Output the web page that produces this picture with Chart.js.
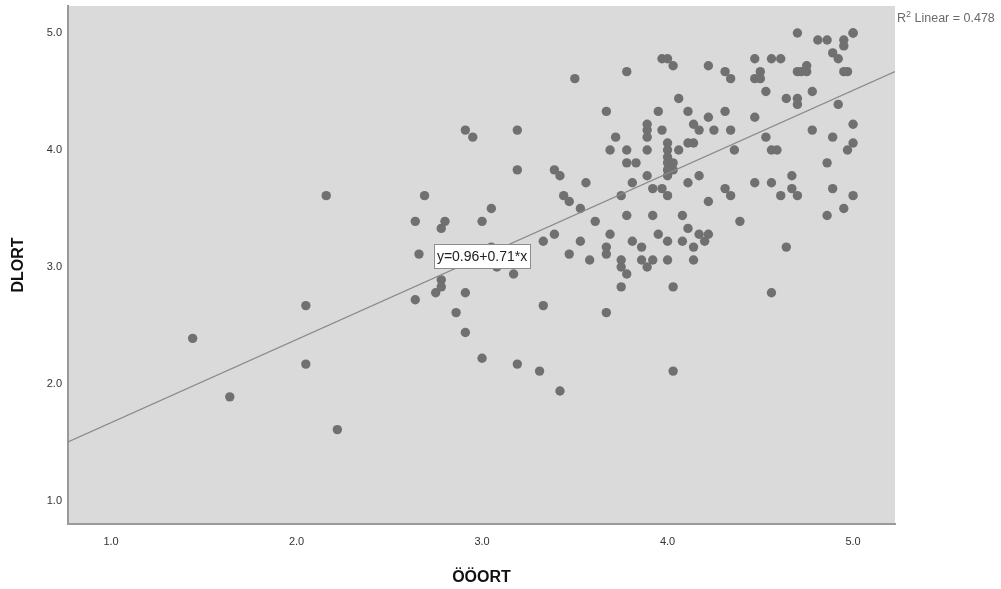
<!DOCTYPE html>
<html>
<head>
<meta charset="utf-8">
<script src="https://cdn.jsdelivr.net/npm/chart.js@4.4.1/dist/chart.umd.min.js"></script>
<style>
html, body { margin: 0; padding: 0; background: #fff; }
#wrap { width: 1001px; height: 589px; position: relative; }
</style>
</head>
<body>
<div id="wrap"><canvas id="scatter"></canvas></div>
<script>
// ÖÖORT (x) and DLORT (y), one entry per respondent
const ooort = [
  2.16, 2.05, 1.44, 2.05, 1.64, 2.22,
  3.50, 3.78, 3.67, 2.91, 2.95, 3.19, 3.72, 3.69, 3.78, 3.78, 3.19, 3.39, 3.42, 3.56,
  4.70, 5.00, 5.00, 4.81, 4.86, 4.95, 4.95, 4.89, 4.92,
  3.97, 4.00, 4.03, 4.47, 4.56, 4.61, 4.75, 4.22, 4.31, 4.34, 4.47, 4.50, 4.50, 4.70, 4.72, 4.75, 4.95, 4.97,
  4.06, 4.53, 4.64, 4.70, 4.70, 4.78, 4.92,
  3.95, 4.11, 4.31, 4.22, 4.47,
  3.89, 3.89, 3.89, 3.97, 4.14, 4.17, 4.25, 4.34, 4.53, 4.78, 4.89, 5.00, 5.00, 4.97,
  3.89, 4.00, 4.00, 4.06, 4.11, 4.14, 4.00, 4.00, 4.03, 4.03, 4.00, 4.36, 4.56, 4.59, 3.83, 4.86,
  3.81, 3.89, 3.92, 3.97, 4.00, 4.11, 4.17, 4.31, 4.47, 4.56, 4.67, 4.67, 4.89,
  2.69, 3.44, 3.47, 3.75, 3.53, 3.05, 2.64, 2.80, 2.78, 3.00, 3.61, 3.78, 3.39, 3.33, 3.53, 3.69,
  2.66, 3.05, 3.08, 3.17, 3.47, 3.58, 3.67, 3.67, 3.75, 3.75, 3.78, 2.78, 2.78, 2.75, 2.64, 2.91,
  3.75, 3.33, 3.67, 2.86, 2.91, 3.00, 3.19, 3.31, 3.42,
  4.00, 4.34, 4.61, 4.70, 5.00, 4.22, 3.92, 4.08, 4.39, 4.86, 4.95, 4.11, 3.95, 4.17, 4.22,
  3.81, 4.00, 4.08, 4.20, 3.86, 4.14, 4.64, 3.86, 3.92, 3.89, 4.00, 4.14, 4.03, 4.56, 4.03
];
const dlort = [
  3.61, 2.67, 2.39, 2.17, 1.89, 1.61,
  4.61, 4.67, 4.33, 4.17, 4.11, 4.17, 4.11, 4.00, 4.00, 3.89, 3.83, 3.83, 3.78, 3.72,
  5.00, 5.00, 5.00, 4.94, 4.94, 4.94, 4.89, 4.83, 4.78,
  4.78, 4.78, 4.72, 4.78, 4.78, 4.78, 4.72, 4.72, 4.67, 4.61, 4.61, 4.67, 4.61, 4.67, 4.67, 4.67, 4.67, 4.67,
  4.44, 4.50, 4.44, 4.44, 4.39, 4.50, 4.39,
  4.33, 4.33, 4.33, 4.28, 4.28,
  4.22, 4.17, 4.11, 4.17, 4.22, 4.17, 4.17, 4.17, 4.11, 4.17, 4.11, 4.22, 4.06, 4.00,
  4.00, 4.06, 4.00, 4.00, 4.06, 4.06, 3.94, 3.89, 3.89, 3.83, 3.83, 4.00, 4.00, 4.00, 3.89, 3.89,
  3.72, 3.78, 3.67, 3.67, 3.78, 3.72, 3.78, 3.67, 3.72, 3.72, 3.78, 3.67, 3.67,
  3.61, 3.61, 3.56, 3.61, 3.50, 3.50, 3.39, 3.39, 3.33, 3.39, 3.39, 3.44, 3.28, 3.22, 3.22, 3.28,
  3.11, 3.17, 3.00, 2.94, 3.11, 3.06, 3.17, 3.11, 3.06, 3.00, 2.94, 2.89, 2.83, 2.78, 2.72, 2.78,
  2.83, 2.67, 2.61, 2.61, 2.44, 2.22, 2.17, 2.11, 1.94,
  3.61, 3.61, 3.61, 3.61, 3.61, 3.56, 3.44, 3.44, 3.39, 3.44, 3.50, 3.33, 3.28, 3.28, 3.28,
  3.22, 3.22, 3.22, 3.22, 3.17, 3.17, 3.17, 3.06, 3.06, 3.00, 3.06, 3.06, 2.83, 2.78, 2.11
];
const xTicks = [1, 2, 3, 4, 5];
const yTicks = [1, 2, 3, 4, 5];
const xRange = [0.768, 5.226];
const yRange = [0.803, 5.231];
const fitIntercept = 0.96;
const fitSlope = 0.71;
const rSquared = 0.478;
const equationAtX = 3.0;

const FONT = '"Liberation Sans", Arial, sans-serif';
const points = ooort.map((x, i) => ({ x: x, y: dlort[i] }));
const fitLine = xRange.map(x => ({ x: x, y: fitIntercept + fitSlope * x }));

const plotBackground = {
  id: 'plotBackground',
  beforeDraw(chart) {
    const { ctx, chartArea: a } = chart;
    ctx.save();
    ctx.fillStyle = '#dadada';
    ctx.fillRect(a.left, a.top, a.right - a.left, a.bottom - a.top);
    ctx.restore();
  }
};

const fitLabels = {
  id: 'fitLabels',
  afterDraw(chart) {
    const { ctx, chartArea: a, scales } = chart;
    const px = scales.x.getPixelForValue(equationAtX);
    const py = scales.y.getPixelForValue(fitIntercept + fitSlope * equationAtX);
    const text = 'y=' + fitIntercept.toFixed(2) + '+' + fitSlope.toFixed(2) + '*x';
    ctx.save();
    ctx.font = '14px ' + FONT;
    const w = ctx.measureText(text).width + 6;
    const h = 24;
    ctx.fillStyle = '#ffffff';
    ctx.fillRect(px - w / 2, py - h / 2, w, h);
    ctx.strokeStyle = '#8c8c8c';
    ctx.lineWidth = 1;
    ctx.strokeRect(Math.round(px - w / 2) + 0.5, Math.round(py - h / 2) + 0.5, Math.round(w), h);
    ctx.fillStyle = '#222';
    ctx.textAlign = 'center';
    ctx.textBaseline = 'middle';
    ctx.fillText(text, px, py + 1);

    // R² note in the right margin
    let x = a.right + 2;
    const y = a.top + 13;
    ctx.textAlign = 'left';
    ctx.textBaseline = 'middle';
    ctx.fillStyle = '#6a6a6a';
    ctx.font = '12.5px ' + FONT;
    ctx.fillText('R', x, y);
    x += ctx.measureText('R').width;
    ctx.font = '9px ' + FONT;
    ctx.fillText('2', x, y - 4);
    x += ctx.measureText('2').width;
    ctx.font = '12.5px ' + FONT;
    ctx.fillText(' Linear = ' + rSquared.toFixed(3), x, y);
    ctx.restore();
  }
};

new Chart(document.getElementById('scatter'), {
  type: 'scatter',
  data: {
    datasets: [
      {
        type: 'line',
        data: fitLine,
        borderColor: '#8a8a8a',
        borderWidth: 1.2,
        pointRadius: 0,
        fill: false
      },
      {
        data: points,
        backgroundColor: '#707070',
        borderColor: '#707070',
        borderWidth: 0,
        pointRadius: 4.7,
        pointHoverRadius: 4.7
      }
    ]
  },
  options: {
    responsive: true,
    maintainAspectRatio: false,
    animation: false,
    layout: { padding: { top: 6, right: 106, bottom: 0, left: 0 } },
    plugins: {
      legend: { display: false },
      tooltip: { enabled: false }
    },
    scales: {
      x: {
        type: 'linear',
        min: xRange[0],
        max: xRange[1],
        afterBuildTicks: s => { s.ticks = xTicks.map(v => ({ value: v })); },
        afterFit: s => { s.height = 65; s.paddingLeft = 0; s.paddingRight = 0; },
        grid: { display: false, drawTicks: false },
        border: { display: true, color: '#9a9a9a', width: 2 },
        ticks: {
          padding: 11,
          color: '#333',
          font: { family: FONT, size: 11 },
          callback: v => Number(v).toFixed(1)
        },
        title: {
          display: true,
          text: 'ÖÖORT',
          color: '#111',
          font: { family: FONT, size: 16, weight: 'bold' },
          padding: { top: 0, bottom: 2 }
        }
      },
      y: {
        type: 'linear',
        min: yRange[0],
        max: yRange[1],
        afterBuildTicks: s => { s.ticks = yTicks.map(v => ({ value: v })); },
        afterFit: s => { s.width = 68; s.paddingTop = 0; s.paddingBottom = 0; },
        grid: { display: false, drawTicks: false },
        border: { display: true, color: '#9a9a9a', width: 2 },
        ticks: {
          padding: 6,
          color: '#333',
          font: { family: FONT, size: 11 },
          callback: v => Number(v).toFixed(1)
        },
        title: {
          display: true,
          text: 'DLORT',
          color: '#111',
          font: { family: FONT, size: 16, weight: 'bold' },
          padding: { top: 9, bottom: 0 }
        }
      }
    }
  },
  plugins: [plotBackground, fitLabels]
});
</script>
</body>
</html>
